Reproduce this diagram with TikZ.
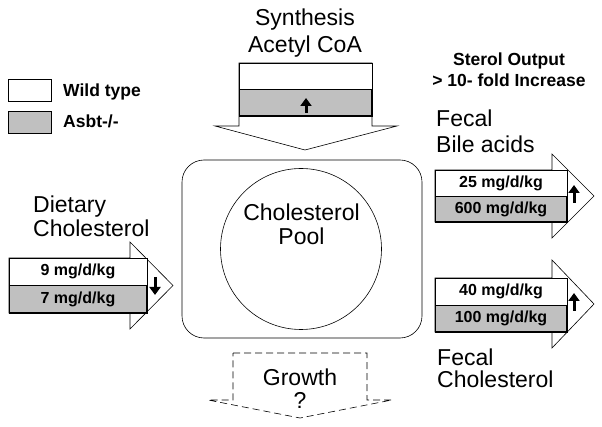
\documentclass[tikz,border=0pt]{standalone}
\usepackage{fontspec}
\setmainfont{Liberation Sans}
\usetikzlibrary{arrows.meta}
\definecolor{boxgray}{HTML}{C0C0C0}
\begin{document}
\begin{tikzpicture}[x=1pt,y=-1pt,
  big/.style={font=\fontsize{23}{27}\selectfont, inner sep=0pt},
  bold/.style={font=\bfseries\fontsize{17.5}{21}\selectfont, inner sep=0pt},
  val/.style={font=\bfseries\fontsize{16}{18}\selectfont},
  wbox/.style={draw, fill=white, line width=0.7pt, inner sep=0pt, val},
  gbox/.style={draw, fill=boxgray, line width=0.7pt, inner sep=0pt, val},
  arrowshape/.style={draw, fill=white, line width=0.6pt, line join=miter},
  shadowline/.style={line width=1.8pt, line cap=butt},
  symarrow/.style={line width=3pt, -{Triangle[width=11pt,length=8pt]}}
]
\useasboundingbox (0,0) rectangle (602,427);
\fill[white] (0,0) rectangle (602,427);

% ---------- pool ----------
\node[draw, line width=0.6pt, rounded corners=22pt, minimum width=240pt, minimum height=178pt] (frame) at (302,249) {};
\node[draw, circle, line width=0.6pt, minimum size=161pt, inner sep=0pt] (pool) at (301,249) {};
\node[big, anchor=base] (pool1) at (301.5,221) {Cholesterol};
\node[big, anchor=base] (pool2) at (301.5,245) {Pool};

% ---------- synthesis arrow ----------
\coordinate (s1) at (239,63);
\coordinate (s2) at (372,63);
\path[arrowshape] (s1) -- (239,126) -- (215,126) -- (305,150) -- (397,126) -- (372,126) -- (s2) -- cycle;
\node[wbox, minimum width=133pt, minimum height=26pt] (sw) at (305.5,76) {};
\node[gbox, minimum width=133pt, minimum height=27pt] (sg) at (305.5,102.5) {};
\draw[shadowline] (sg.north east) -- (sg.south east) -- (sg.south west);
\draw[symarrow, shorten >=0pt] (306,113) -- (306,98);
\node[big, anchor=base] (synth1) at (305,26) {Synthesis};
\node[big, anchor=base] (synth2) at (305,53) {Acetyl CoA};

% ---------- legend ----------
\node[draw, fill=white, line width=0.7pt, minimum width=43pt, minimum height=22pt, inner sep=0pt] (legw) at (29.5,90) {};
\node[draw, fill=boxgray, line width=0.7pt, minimum width=43pt, minimum height=22pt, inner sep=0pt] (legg) at (29.5,122) {};
\node[bold, anchor=base west] (legwt) at (63,97) {Wild type};
\node[bold, anchor=base west] (leggt) at (63,128) {Asbt-/-};

% ---------- sterol output ----------
\node[bold, anchor=base] (sterol1) at (509,66) {Sterol Output};
\node[bold, anchor=base] (sterol2) at (509,87) {> 10- fold Increase};

% ---------- dietary arrow ----------
\path[arrowshape] (9,258) -- (130,258) -- (130,242) -- (173,285.5) -- (130,329) -- (130,313) -- (9,313) -- cycle;
\node[wbox, minimum width=138pt, minimum height=27pt] (dw) at (78,271.5) {9 mg/d/kg};
\node[gbox, minimum width=138pt, minimum height=28pt] (dg) at (78,299) {7 mg/d/kg};
\draw[shadowline] (dg.north east) -- (dg.south east) -- (dg.south west);
\draw[symarrow] (155,277) -- (155,295);
\node[big, anchor=base west] (diet1) at (33,213) {Dietary};
\node[big, anchor=base west] (diet2) at (33,237) {Cholesterol};

% ---------- fecal bile acids arrow ----------
\path[arrowshape] (435,170) -- (552,170) -- (552,154) -- (594,196) -- (552,238) -- (552,222) -- (435,222) -- cycle;
\node[wbox, minimum width=132pt, minimum height=26pt] (bw) at (501,183) {25 mg/d/kg};
\node[gbox, minimum width=132pt, minimum height=26pt] (bg) at (501,209) {600 mg/d/kg};
\draw[shadowline] (bg.north east) -- (bg.south east) -- (bg.south west);
\draw[symarrow] (574,203) -- (574,185);
\node[big, anchor=base west] (bile1) at (436,127) {Fecal};
\node[big, anchor=base west] (bile2) at (436,153) {Bile acids};

% ---------- fecal cholesterol arrow ----------
\path[arrowshape] (435,278) -- (552,278) -- (552,260) -- (594,304) -- (552,348) -- (552,332) -- (435,332) -- cycle;
\node[wbox, minimum width=132pt, minimum height=27pt] (cw) at (501,291.5) {40 mg/d/kg};
\node[gbox, minimum width=132pt, minimum height=27pt] (cg) at (501,318.5) {100 mg/d/kg};
\draw[shadowline] (cg.north east) -- (cg.south east) -- (cg.south west);
\draw[symarrow] (574,311) -- (574,293);
\node[big, anchor=base west] (fchol1) at (437,365) {Fecal};
\node[big, anchor=base west] (fchol2) at (437,387) {Cholesterol};

% ---------- growth ----------
\path[draw, line width=0.6pt, dash pattern=on 7pt off 4pt] (233,353) -- (367,353) -- (367,400) -- (392,400) -- (300,418) -- (208,400) -- (233,400) -- cycle;
\node[big, anchor=base] (growth1) at (300,385) {Growth};
\node[big, anchor=base] (growth2) at (300,408) {?};
\end{tikzpicture}
\end{document}
